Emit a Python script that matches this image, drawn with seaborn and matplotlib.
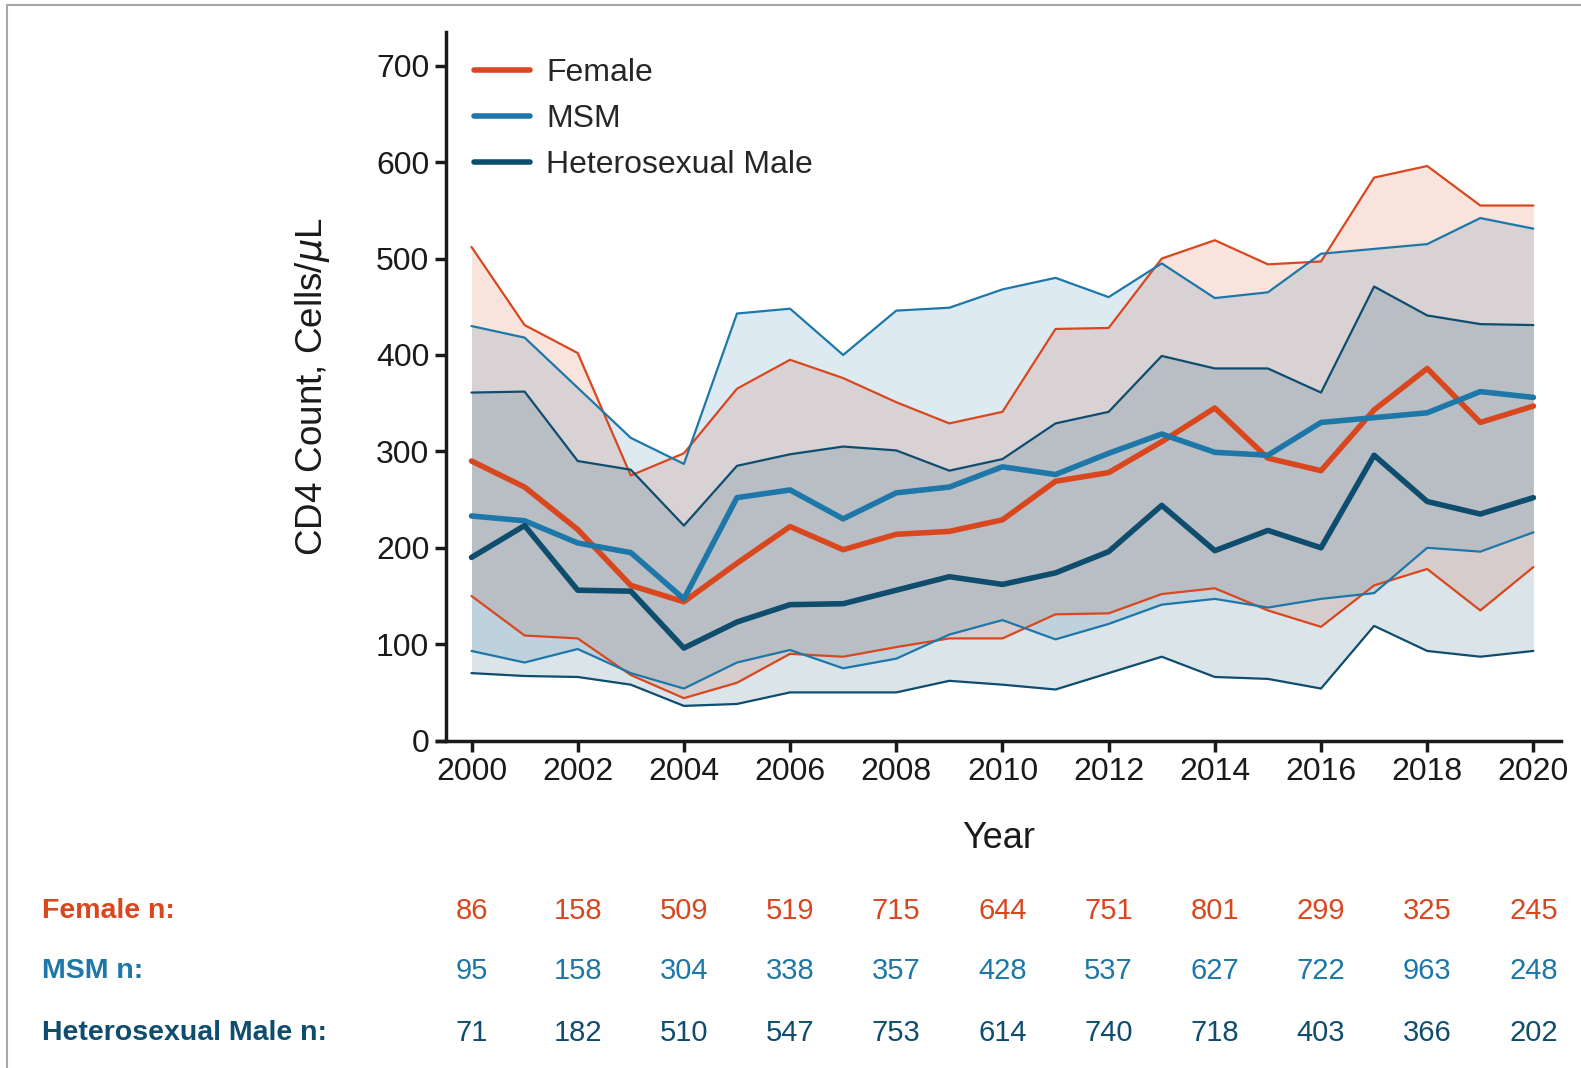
import matplotlib
matplotlib.use("Agg")
import matplotlib.pyplot as plt
import matplotlib.transforms as mtransforms
from matplotlib.lines import Line2D
from matplotlib.patches import Rectangle
import pandas as pd
import seaborn as sns

# ---- data ----
years = [2000, 2001, 2002, 2003, 2004, 2005, 2006, 2007, 2008, 2009, 2010,
         2011, 2012, 2013, 2014, 2015, 2016, 2017, 2018, 2019, 2020]

female_median = [290, 263, 219, 161, 144, 184, 222, 198, 214, 217, 229,
                 269, 278, 310, 345, 293, 280, 343, 386, 330, 347]
female_upper = [512, 431, 402, 275, 298, 365, 395, 376, 351, 329, 341,
                427, 428, 500, 519, 494, 497, 584, 596, 555, 555]
female_lower = [150, 109, 106, 68, 44, 60, 90, 87, 97, 106, 106,
                131, 132, 152, 158, 135, 118, 161, 178, 135, 180]

msm_median = [233, 228, 205, 195, 147, 252, 260, 230, 257, 263, 284,
              276, 298, 318, 299, 296, 330, 335, 340, 362, 356]
msm_upper = [430, 418, 366, 314, 287, 443, 448, 400, 446, 449, 468,
             480, 460, 495, 459, 465, 505, 510, 515, 542, 531]
msm_lower = [93, 81, 95, 70, 54, 81, 94, 75, 85, 110, 125,
             105, 121, 141, 147, 138, 147, 153, 200, 196, 216]

het_median = [190, 223, 156, 155, 96, 123, 141, 142, 156, 170, 162,
              174, 196, 244, 197, 218, 200, 296, 248, 235, 252]
het_upper = [361, 362, 290, 281, 223, 285, 297, 305, 301, 280, 292,
             329, 341, 399, 386, 386, 361, 471, 441, 432, 431]
het_lower = [70, 67, 66, 58, 36, 38, 50, 50, 50, 62, 58,
             53, 70, 87, 66, 64, 54, 119, 93, 87, 93]

n_years = [2000, 2002, 2004, 2006, 2008, 2010, 2012, 2014, 2016, 2018, 2020]
female_n = [86, 158, 509, 519, 715, 644, 751, 801, 299, 325, 245]
msm_n = [95, 158, 304, 338, 357, 428, 537, 627, 722, 963, 248]
het_n = [71, 182, 510, 547, 753, 614, 740, 718, 403, 366, 202]

groups = ["Female", "MSM", "Heterosexual Male"]
colors = {"Female": "#D9471E", "MSM": "#1D77A8", "Heterosexual Male": "#0E4D6E"}

frames = []
for g, med, lo, hi in [("Female", female_median, female_lower, female_upper),
                       ("MSM", msm_median, msm_lower, msm_upper),
                       ("Heterosexual Male", het_median, het_lower, het_upper)]:
    frames.append(pd.DataFrame({"Year": years, "median": med, "lower": lo,
                                "upper": hi, "group": g}))
df = pd.concat(frames, ignore_index=True)

sns.set_theme(style="ticks")
plt.rcParams["font.family"] = ["Liberation Sans", "DejaVu Sans"]

fig = plt.figure(figsize=(15.81, 10.68), dpi=100)
ax = fig.add_axes([437 / 1581, 1 - 740.6 / 1068, 1124 / 1581, (740.6 - 32) / 1068])

# IQR bands
for g in groups:
    sub = df[df["group"] == g]
    ax.fill_between(sub["Year"], sub["lower"], sub["upper"],
                    color=colors[g], alpha=0.15, linewidth=0)

# bound lines (thin) and medians (thick)
for col in ["lower", "upper"]:
    sns.lineplot(data=df, x="Year", y=col, hue="group", palette=colors,
                 linewidth=1.6, legend=False, ax=ax)
sns.lineplot(data=df, x="Year", y="median", hue="group", palette=colors,
             linewidth=4.0, legend=False, ax=ax)

ax.set_xlim(1999.35, 2020.52)
ax.set_ylim(0, 735)
ax.set_xticks(n_years)
ax.set_yticks([0, 100, 200, 300, 400, 500, 600, 700])
sns.despine(ax=ax)
ax.spines["left"].set_position(("outward", -6.5))
for s in ["left", "bottom"]:
    ax.spines[s].set_linewidth(2.5)
    ax.spines[s].set_color("#1a1a1a")
ax.tick_params(axis="both", direction="out", length=8, width=2.5,
               labelsize=23, pad=4, colors="#1a1a1a")

ax.set_xlabel("Year", fontsize=26, labelpad=24, color="#1a1a1a")
ax.set_ylabel("CD4 Count, Cells/$\\mu$L", fontsize=26.5, labelpad=32, color="#1a1a1a")

handles = [Line2D([0], [0], color=colors[g], linewidth=4.0) for g in groups]
ax.legend(handles, groups, loc="upper left", frameon=False, fontsize=23,
          handlelength=1.75, handletextpad=0.5, labelspacing=0.5,
          bbox_to_anchor=(0.016, 0.99), borderaxespad=0.2)

# sample size table
trans = mtransforms.blended_transform_factory(ax.transData, fig.transFigure)
rows = [("Female n:", female_n, colors["Female"], 1 - 911 / 1068),
        ("MSM n:", msm_n, colors["MSM"], 1 - 971 / 1068),
        ("Heterosexual Male n:", het_n, colors["Heterosexual Male"], 1 - 1033 / 1068)]
for label, counts, c, y in rows:
    fig.text(42 / 1581, y, label, color=c, fontsize=20.5, fontweight="bold",
             ha="left", va="center")
    for yr, n in zip(n_years, counts):
        ax.text(yr, y, str(n), transform=trans, color=c, fontsize=21,
                ha="center", va="center", clip_on=False)

# thin grey frame
fig.patches.append(Rectangle((7 / 1581, -0.1), 1.2, 1.1 - 5 / 1068,
                             transform=fig.transFigure, fill=False,
                             edgecolor="#a8a8a8", linewidth=1.5))

fig.savefig("out.png", dpi=100)
